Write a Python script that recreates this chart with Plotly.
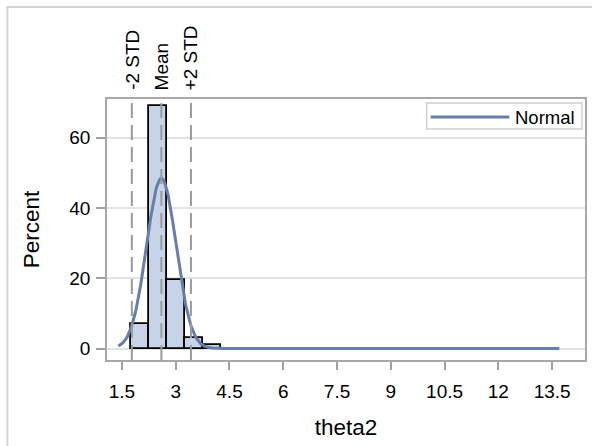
import numpy as np
import plotly.graph_objects as go

# ---- data ----
bin_centers = [2.0, 2.5, 3.0, 3.5, 4.0]
bin_percent = [7.1, 69.1, 19.4, 3.0, 0.9]
bin_width = 0.5
fit_mean = 2.60
fit_std = 0.412
curve_min, curve_max = 1.40, 13.70
ref_labels = ["-2 STD", "Mean", "+2 STD"]
x_ticks = [1.5, 3, 4.5, 6, 7.5, 9, 10.5, 12, 13.5]
y_ticks = [0, 20, 40, 60]

W, H = 592, 446
L, R, T, B = 107, 5, 99, 86
pw, ph = W - L - R, H - T - B


def px_x(p):
    return (p - L) / pw


def px_y(p):
    return (H - B - p) / ph


FONT = "Liberation Sans, Arial, sans-serif"
BAR_FILL = "#c7d4e8"
CURVE = "#667ea8"

xs = np.linspace(curve_min, curve_max, 600)
ys = 100 * bin_width * np.exp(-0.5 * ((xs - fit_mean) / fit_std) ** 2) / (fit_std * np.sqrt(2 * np.pi))

fig = go.Figure()
fig.add_trace(go.Bar(x=bin_centers, y=bin_percent, width=[bin_width] * len(bin_centers),
                     marker=dict(color=BAR_FILL, line=dict(color="black", width=1.8)),
                     showlegend=False, hoverinfo="skip"))
fig.add_trace(go.Scatter(x=xs, y=ys, mode="lines", line=dict(color=CURVE, width=3),
                         name="Normal", showlegend=False))

ref_vals = [fit_mean - 2 * fit_std, fit_mean, fit_mean + 2 * fit_std]
shapes = []
annotations = []
for v, lab in zip(ref_vals, ref_labels):
    shapes.append(dict(type="line", xref="x", yref="paper", x0=v, x1=v, y0=0, y1=0.99,
                       line=dict(color="#9a9a9a", width=2, dash="15px,7px"), layer="above"))
    annotations.append(dict(x=v, y=px_y(92), xref="x", yref="paper", text=lab, textangle=-90,
                            showarrow=False, xanchor="center", yanchor="bottom",
                            font=dict(family=FONT, size=19, color="black")))

# outer frame (left and top edges)
shapes.append(dict(type="line", xref="paper", yref="paper", x0=px_x(7), x1=px_x(7),
                   y0=px_y(7), y1=px_y(H + 5), line=dict(color="#d4d4d4", width=2), layer="above"))
shapes.append(dict(type="line", xref="paper", yref="paper", x0=px_x(6), x1=px_x(W + 5),
                   y0=px_y(7), y1=px_y(7), line=dict(color="#d4d4d4", width=2), layer="above"))

# legend
shapes.append(dict(type="rect", xref="paper", yref="paper", x0=px_x(428), x1=px_x(584),
                   y0=px_y(129), y1=px_y(103), line=dict(color="#d0d0d0", width=1.5),
                   fillcolor="white", layer="above"))
shapes.append(dict(type="line", xref="paper", yref="paper", x0=px_x(432), x1=px_x(511),
                   y0=px_y(117), y1=px_y(117), line=dict(color=CURVE, width=3), layer="above"))
annotations.append(dict(x=px_x(515), y=px_y(117), xref="paper", yref="paper", text="Normal",
                        showarrow=False, xanchor="left", yanchor="middle",
                        font=dict(family=FONT, size=18.5, color="black")))

fig.update_layout(
    width=W, height=H, margin=dict(l=L, r=R, t=T, b=B, pad=0),
    paper_bgcolor="white", plot_bgcolor="white", bargap=0,
    font=dict(family=FONT, size=19, color="black"),
    shapes=shapes, annotations=annotations, showlegend=False,
)
fig.update_xaxes(range=[1.083, 14.417], tickvals=x_ticks, ticktext=[f"{t:g}" for t in x_ticks],
                 ticks="outside", ticklen=8, tickwidth=1.5, tickcolor="#a0a0a0",
                 ticklabelstandoff=5,
                 showline=True, linecolor="#a8a8a8", linewidth=1.5, mirror=True,
                 showgrid=False, zeroline=False,
                 title=dict(text="theta2", font=dict(family=FONT, size=22.5), standoff=19))
fig.update_yaxes(range=[-3.27, 71.02], tickvals=y_ticks,
                 ticks="outside", ticklen=9, tickwidth=1.5, tickcolor="#a0a0a0",
                 ticklabelstandoff=2,
                 showline=True, linecolor="#a8a8a8", linewidth=1.5, mirror=True,
                 showgrid=True, gridcolor="#e3e3e3", gridwidth=1.5, zeroline=False,
                 title=dict(text="Percent", font=dict(family=FONT, size=22.5), standoff=23))

fig.write_html("out.html")
